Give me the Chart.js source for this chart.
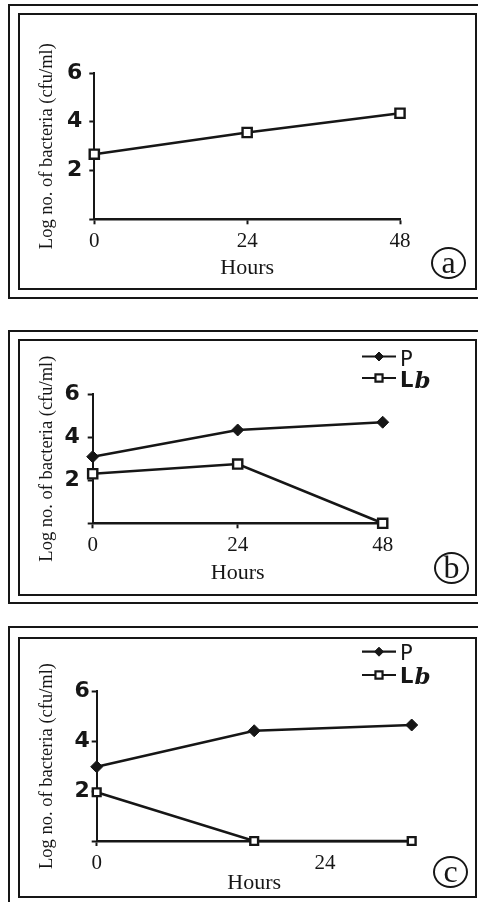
<!DOCTYPE html>
<html>
<head>
<meta charset="utf-8">
<title>Log no. of bacteria</title>
<script src="https://cdn.jsdelivr.net/npm/chart.js@4.4.1/dist/chart.umd.min.js"></script>
<style>
    html, body { margin: 0; padding: 0; background: #fff; }
    body { position: relative; width: 478px; height: 902px; overflow: hidden; }
    .box { position: absolute; box-sizing: border-box; border: 2px solid #161616; }
    canvas { position: absolute; left: 20px; }
    .tag {
        position: absolute; box-sizing: border-box; width: 35px; height: 32px;
        border: 2px solid #161616; border-radius: 50%;
        display: flex; align-items: center; justify-content: center;
        font: 32px "Liberation Serif", serif; line-height: 1; color: #161616;
        padding-bottom: 3px;
    }
</style>
</head>
<body>
    <!-- panel frames: outer + inner line -->
    <div class="box" style="left:8px;top:4px;width:490px;height:295px"></div>
    <div class="box" style="left:18px;top:13px;width:459px;height:277px"></div>
    <div class="box" style="left:8px;top:330px;width:490px;height:274px"></div>
    <div class="box" style="left:18px;top:339px;width:459px;height:257px"></div>
    <div class="box" style="left:8px;top:626px;width:490px;height:290px"></div>
    <div class="box" style="left:18px;top:637px;width:459px;height:261px"></div>

    <canvas id="chart-a" width="455" height="273" style="top:15px"></canvas>
    <canvas id="chart-b" width="455" height="252" style="top:342px"></canvas>
    <canvas id="chart-c" width="455" height="256" style="top:640px"></canvas>

    <div class="tag" style="left:431px;top:247px">a</div>
    <div class="tag" style="left:434px;top:552px">b</div>
    <div class="tag" style="left:433px;top:856px">c</div>

<script>
const INK = '#161616';

// shared axis values
const hours = [0, 24, 48];
const hourLabels = ['0', '24', '48'];
const yTickValues = [0, 2, 4, 6];
const yTickLabels = ['', '2', '4', '6'];
const seriesNames = ['P', 'Lb'];

// panel a: single series (open squares)
const aLb = [2.67, 3.56, 4.35];

// panel b
const bP = [3.09, 4.33, 4.69];
const bLb = [2.30, 2.75, 0];

// panel c: three sampling points, only "0" and "24" printed on the axis
const cSlots = [0, 1, 2];
const cP = [2.97, 4.41, 4.64];
const cLb = [1.95, 0, 0];
const cTickPos = [0, 1.45];
const cTickText = ['0', '24'];

const toPoints = (xs, ys) => xs.map((x, i) => ({ x: x, y: ys[i] }));

function seriesP(xs, ys) {
    return {
        label: seriesNames[0], data: toPoints(xs, ys),
        borderColor: INK, borderWidth: 2.6,
        pointStyle: 'rectRot', pointRadius: 6,
        pointBackgroundColor: INK, pointBorderColor: INK, pointBorderWidth: 1,
        clip: false
    };
}

function seriesLb(xs, ys, r) {
    return {
        label: seriesNames[1], data: toPoints(xs, ys),
        borderColor: INK, borderWidth: 2.6,
        pointStyle: 'rect', pointRadius: r,
        pointBackgroundColor: '#fff', pointBorderColor: INK, pointBorderWidth: 2.4,
        clip: false
    };
}

// small legend in the top right corner, with the italic bold "b"
const cornerLegend = {
    id: 'cornerLegend',
    afterDraw(chart, args, o) {
        if (!o.show) return;
        const ctx = chart.ctx;
        chart.data.datasets.forEach((ds, i) => {
            const y = o.y + i * o.gap;
            ctx.save();
            ctx.strokeStyle = INK;
            ctx.lineWidth = 2.2;
            ctx.beginPath();
            ctx.moveTo(o.x, y);
            ctx.lineTo(o.x + o.len, y);
            ctx.stroke();
            ctx.fillStyle = ds.pointBackgroundColor;
            ctx.lineWidth = ds.pointStyle === 'rect' ? 2.2 : 1;
            Chart.helpers.drawPoint(ctx, { pointStyle: ds.pointStyle, radius: o.radius[i], borderWidth: 1 },
                o.x + o.len / 2, y);
            ctx.fillStyle = INK;
            ctx.textBaseline = 'middle';
            let tx = o.x + o.len + 4;
            const ty = y + o.textDrop;
            if (ds.label === 'Lb') {
                ctx.font = 'bold 21px "DejaVu Sans"';
                ctx.fillText('L', tx, ty);
                tx += ctx.measureText('L').width + 1;
                ctx.font = 'italic bold 23px "DejaVu Serif"';
                ctx.fillText('b', tx, ty);
            } else {
                ctx.font = '21px "DejaVu Sans"';
                ctx.fillText(ds.label, tx, ty);
            }
            ctx.restore();
        });
    }
};

function makeChart(id, datasets, p) {
    return new Chart(document.getElementById(id), {
        type: 'line',
        data: { datasets: datasets },
        plugins: [cornerLegend],
        options: {
            responsive: false,
            animation: false,
            layout: { padding: { left: 0, top: p.top, right: p.right, bottom: 0 } },
            plugins: {
                legend: { display: false },
                tooltip: { enabled: false },
                cornerLegend: p.legend || { show: false }
            },
            scales: {
                x: {
                    type: 'linear',
                    min: p.xMin, max: p.xMax,
                    afterBuildTicks: s => { s.ticks = p.xTicks.map(v => ({ value: v })); },
                    afterFit: s => { s.height = p.xH; },
                    border: { color: INK, width: 2.4 },
                    grid: {
                        drawOnChartArea: false, tickLength: 5, tickWidth: 2,
                        tickColor: c => (p.xTickMarks === false && c.tick && c.tick.value !== 0) ? 'rgba(0,0,0,0)' : INK
                    },
                    ticks: {
                        padding: 5, color: INK, maxRotation: 0, autoSkip: false,
                        font: { family: '"Liberation Serif", serif', size: 21 },
                        callback: (v) => p.xText[p.xTicks.indexOf(v)]
                    },
                    title: {
                        display: true, text: 'Hours', color: INK,
                        font: { family: '"Liberation Serif", serif', size: 22 },
                        padding: { top: 0, bottom: p.hoursPad }
                    }
                },
                y: {
                    min: 0, max: 6,
                    afterBuildTicks: s => { s.ticks = yTickValues.map(v => ({ value: v })); },
                    afterFit: s => { s.width = p.yW; },
                    border: { color: INK, width: 2 },
                    grid: { drawOnChartArea: false, tickLength: 5, tickWidth: 2, tickColor: INK },
                    ticks: {
                        padding: p.yPad, color: INK,
                        font: { family: '"DejaVu Sans", sans-serif', size: 22, weight: 'bold' },
                        callback: (v) => yTickLabels[yTickValues.indexOf(v)]
                    },
                    title: {
                        display: true, text: 'Log no. of bacteria (cfu/ml)', color: INK,
                        font: { family: '"Liberation Serif", serif', size: 18.5 },
                        padding: { top: 16, bottom: 0 }
                    }
                }
            }
        }
    });
}

makeChart('chart-a', [seriesLb(hours, aLb, 6.5)], {
    top: 58, right: 75, xH: 68.7, yW: 74.3, yPad: 7, hoursPad: 7,
    xMin: 0, xMax: 48, xTicks: hours, xText: hourLabels
});

makeChart('chart-b', [seriesP(hours, bP), seriesLb(hours, bLb, 6.5)], {
    top: 52, right: 92.3, xH: 70.7, yW: 72.7, yPad: 8, hoursPad: 7.7,
    xMin: 0, xMax: 48, xTicks: hours, xText: hourLabels,
    legend: { show: true, x: 342, len: 34, y: 14.5, gap: 21.5, textDrop: 4, radius: [4.5, 5] }
});

makeChart('chart-c', [seriesP(cSlots, cP), seriesLb(cSlots, cLb, 5.5)], {
    top: 51, right: 63.3, xH: 55, yW: 76.7, yPad: 2, hoursPad: 0,
    xMin: 0, xMax: 2, xTicks: cTickPos, xText: cTickText, xTickMarks: false,
    legend: { show: true, x: 342, len: 34, y: 11.7, gap: 23.3, textDrop: 3, radius: [4.5, 5] }
});
</script>
</body>
</html>
